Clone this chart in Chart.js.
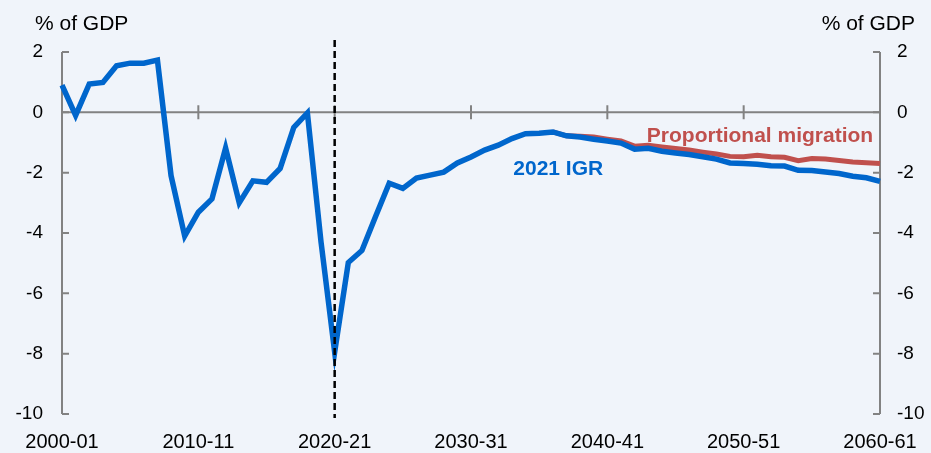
<!DOCTYPE html>
<html>
<head>
<meta charset="utf-8">
<script src="https://cdn.jsdelivr.net/npm/chart.js@4/dist/chart.umd.min.js"></script>
<style>
  html, body { margin: 0; padding: 0; background: #F0F4FA; }
  #wrap { width: 931px; height: 453px; position: relative; }
</style>
</head>
<body>
<div id="wrap"><canvas id="c" width="931" height="453"></canvas></div>
<script>
// ---- DATA ----
const categories = [
  "2000-01","2001-02","2002-03","2003-04","2004-05","2005-06","2006-07","2007-08","2008-09","2009-10",
  "2010-11","2011-12","2012-13","2013-14","2014-15","2015-16","2016-17","2017-18","2018-19","2019-20",
  "2020-21","2021-22","2022-23","2023-24","2024-25","2025-26","2026-27","2027-28","2028-29","2029-30",
  "2030-31","2031-32","2032-33","2033-34","2034-35","2035-36","2036-37","2037-38","2038-39","2039-40",
  "2040-41","2041-42","2042-43","2043-44","2044-45","2045-46","2046-47","2047-48","2048-49","2049-50",
  "2050-51","2051-52","2052-53","2053-54","2054-55","2055-56","2056-57","2057-58","2058-59","2059-60",
  "2060-61"
];
const igr2021 = [
  0.90, -0.10, 0.94, 0.99, 1.54, 1.63, 1.63, 1.73, -2.10, -4.10,
  -3.31, -2.87, -1.18, -3.00, -2.27, -2.32, -1.86, -0.50, -0.02, -4.30,
  -7.95, -4.98, -4.58, -3.45, -2.35, -2.52, -2.18, -2.08, -1.98, -1.68,
  -1.48, -1.25, -1.09, -0.87, -0.71, -0.69, -0.65, -0.78, -0.82, -0.89,
  -0.95, -1.02, -1.22, -1.19, -1.29, -1.35, -1.40, -1.47, -1.55, -1.68,
  -1.70, -1.72, -1.77, -1.78, -1.92, -1.93, -1.98, -2.03, -2.12, -2.17,
  -2.29
];
const proportionalMigration = [
  null, null, null, null, null, null, null, null, null, null,
  null, null, null, null, null, null, null, null, null, null,
  null, null, null, null, null, null, null, null, null, null,
  null, null, null, null, null, null, -0.65, -0.78, -0.79, -0.82,
  -0.89, -0.95, -1.12, -1.09, -1.15, -1.20, -1.25, -1.32, -1.38, -1.46,
  -1.47, -1.42, -1.47, -1.49, -1.60, -1.53, -1.55, -1.60, -1.65, -1.67,
  -1.70
];
const xTickLabels = ["2000-01","2010-11","2020-21","2030-31","2040-41","2050-51","2060-61"];
const yTicks = [2, 0, -2, -4, -6, -8, -10];
const unitLabel = "% of GDP";
const seriesNames = ["2021 IGR", "Proportional migration"];
const markerCategory = "2020-21";

// ---- STYLE ----
const BLUE = "#0066CC";
const RED = "#C0504D";
const GREY = "#828282";
const BG = "#F0F4FA";
const FONT = "'Liberation Sans', Arial, sans-serif";

const deco = {
  id: "deco",
  beforeDraw(chart) {
    const ctx = chart.ctx;
    ctx.save();
    ctx.fillStyle = BG;
    ctx.fillRect(0, 0, chart.width, chart.height);
    ctx.restore();
  },
  beforeDatasetsDraw(chart) {
    const ctx = chart.ctx;
    const x = chart.scales.x, y = chart.scales.y;
    const L = chart.chartArea.left, R = chart.chartArea.right;
    const T = y.getPixelForValue(2), B = y.getPixelForValue(-10);
    ctx.save();
    ctx.strokeStyle = GREY;
    ctx.lineWidth = 2;
    ctx.lineCap = "butt";
    ctx.beginPath();
    ctx.moveTo(L, T); ctx.lineTo(L, B);
    ctx.moveTo(R, T); ctx.lineTo(R, B);
    ctx.stroke();
    ctx.beginPath();
    yTicks.forEach(v => {
      const py = y.getPixelForValue(v);
      ctx.moveTo(L, py); ctx.lineTo(L + 7, py);
      ctx.moveTo(R, py); ctx.lineTo(R - 7, py);
    });
    ctx.stroke();
    const y0 = y.getPixelForValue(0);
    ctx.beginPath();
    ctx.moveTo(L, y0); ctx.lineTo(R, y0);
    ctx.stroke();
    ctx.beginPath();
    xTickLabels.forEach(lbl => {
      const i = categories.indexOf(lbl);
      const px = x.getPixelForValue(i);
      ctx.moveTo(px, y0 - 7); ctx.lineTo(px, y0 + 7);
    });
    ctx.stroke();
    ctx.restore();
  },
  afterDatasetsDraw(chart) {
    const ctx = chart.ctx;
    const x = chart.scales.x, y = chart.scales.y;
    ctx.save();
    const px = x.getPixelForValue(categories.indexOf(markerCategory));
    ctx.strokeStyle = "#000";
    ctx.lineWidth = 2.5;
    ctx.setLineDash([7, 4]);
    ctx.beginPath();
    ctx.moveTo(px, y.getPixelForValue(2) - 12);
    ctx.lineTo(px, y.getPixelForValue(-10) + 4);
    ctx.stroke();
    ctx.setLineDash([]);
    ctx.fillStyle = "#000";
    ctx.font = "21px " + FONT;
    ctx.textBaseline = "alphabetic";
    ctx.textAlign = "left";
    ctx.fillText(unitLabel, 35, 30);
    ctx.textAlign = "right";
    ctx.fillText(unitLabel, 915, 30);
    ctx.font = "bold 21px " + FONT;
    ctx.textBaseline = "middle";
    ctx.textAlign = "center";
    ctx.fillStyle = BLUE;
    ctx.fillText(seriesNames[0], x.getPixelForValue(36.4), y.getPixelForValue(-1.9));
    ctx.textAlign = "right";
    ctx.fillStyle = RED;
    ctx.fillText(seriesNames[1], x.getPixelForValue(59.5), y.getPixelForValue(-0.8));
    ctx.restore();
  }
};

new Chart(document.getElementById("c"), {
  type: "line",
  data: {
    labels: categories,
    datasets: [
      { label: seriesNames[0], data: igr2021, borderColor: BLUE, borderWidth: 5.5,
        pointRadius: 0, tension: 0, borderJoinStyle: "miter", yAxisID: "y" },
      { label: seriesNames[1], data: proportionalMigration, borderColor: RED, borderWidth: 5,
        pointRadius: 0, tension: 0, borderJoinStyle: "miter", yAxisID: "y" }
    ]
  },
  options: {
    responsive: false,
    animation: false,
    devicePixelRatio: 1,
    layout: { padding: { top: 52, left: 0, right: 0, bottom: 0 } },
    plugins: { legend: { display: false }, tooltip: { enabled: false } },
    scales: {
      x: {
        offset: false,
        grid: { display: false, drawTicks: false },
        border: { display: false },
        ticks: {
          autoSkip: false, maxRotation: 0, minRotation: 0,
          color: "#000", font: { family: FONT, size: 20 }, padding: 16,
          callback: (v, i) => xTickLabels.includes(categories[i]) ? categories[i] : ""
        },
        afterFit: s => { s.height = 39; s.paddingLeft = 0; s.paddingRight = 0; }
      },
      y: {
        position: "left", min: -10, max: 2,
        grid: { display: false, drawTicks: false },
        border: { display: false },
        afterBuildTicks: s => { s.ticks = yTicks.map(v => ({ value: v })); },
        ticks: { color: "#000", font: { family: FONT, size: 19 }, padding: 19 },
        afterFit: s => { s.width = 62; }
      },
      y2: {
        position: "right", min: -10, max: 2,
        grid: { display: false, drawTicks: false },
        border: { display: false },
        afterBuildTicks: s => { s.ticks = yTicks.map(v => ({ value: v })); },
        ticks: { color: "#000", font: { family: FONT, size: 19 }, padding: 17 },
        afterFit: s => { s.width = 51; }
      }
    }
  },
  plugins: [deco]
});
</script>
</body>
</html>
